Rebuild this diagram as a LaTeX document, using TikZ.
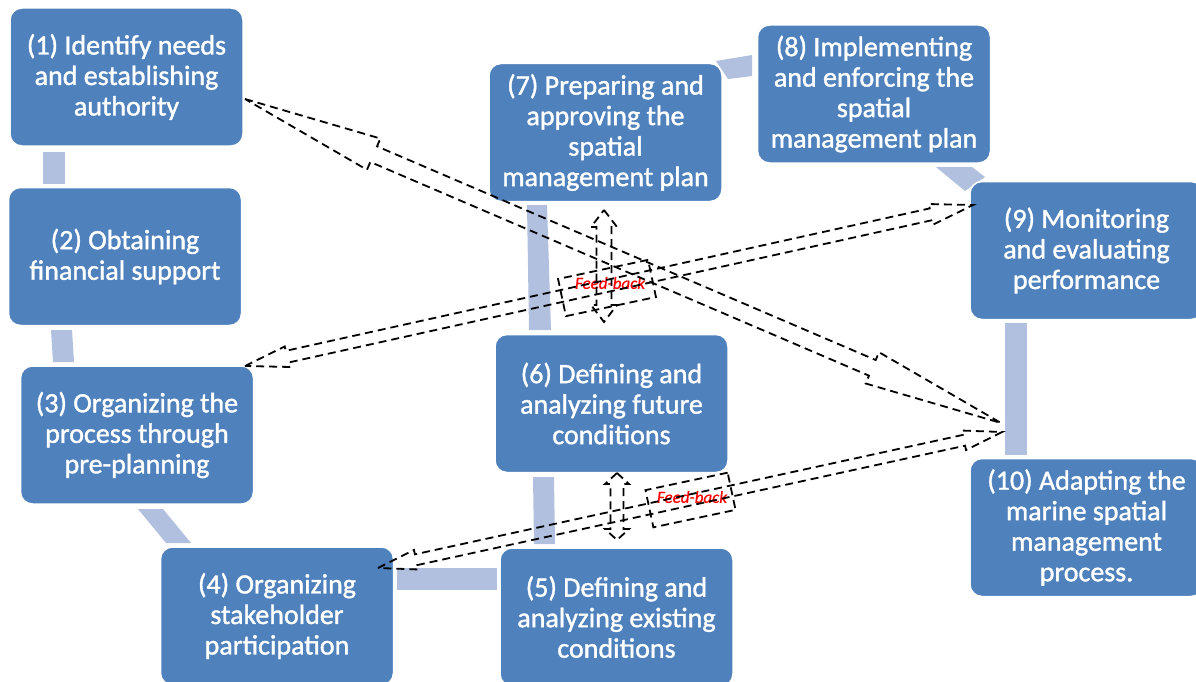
\documentclass[tikz,border=0pt]{standalone}
\usepackage{fontspec}
\setmainfont{Carlito}
\newfontfamily\boxfont{Carlito}[FakeBold=1.3]
\newfontfamily\fbfont{Carlito}[FakeBold=0.6]
\usetikzlibrary{calc}
\definecolor{boxblue}{HTML}{4F81BD}
\definecolor{connblue}{HTML}{B0C0DE}
\tikzset{
  stepbox/.style={draw=white, line width=1.5pt, fill=boxblue, rounded corners=12pt,
    text=white, align=center, minimum width=233pt, minimum height=138pt, inner sep=0pt,
    font=\boxfont\fontsize{28}{30.5}\selectfont},
  conn/.style={fill=connblue},
  fbline/.style={draw=black, line width=1.8pt, dash pattern=on 8pt off 5pt},
  fbbox/.style={fbline, minimum width=92pt, minimum height=38pt, inner sep=0pt},
  fblabel/.style={text=red, inner sep=0pt, font=\fbfont\fontsize{17}{19}\selectfont\itshape},
}
% #1,#2 tips; #3 head length; #4 head half width; #5 shaft half width
\newcommand{\blockarrow}[5]{%
  \draw[fbline] (#1)
    -- ($(#1)!#3!(#2)!#4!90:(#2)$)
    -- ($(#1)!#3!(#2)!#5!90:(#2)$)
    -- ($(#2)!#3!(#1)!#5!-90:(#1)$)
    -- ($(#2)!#3!(#1)!#4!-90:(#1)$)
    -- (#2)
    -- ($(#2)!#3!(#1)!#4!90:(#1)$)
    -- ($(#2)!#3!(#1)!#5!90:(#1)$)
    -- ($(#1)!#3!(#2)!#5!-90:(#2)$)
    -- ($(#1)!#3!(#2)!#4!-90:(#2)$)
    -- cycle;}
\begin{document}
\begin{tikzpicture}[x=1pt,y=-1pt]
\fill[white] (0,0) rectangle (1196,682);
\useasboundingbox (0,0) rectangle (1196,682);
% connectors
\fill[conn] (43,152) -- (65,152) -- (65,184) -- (43,184) -- cycle;
\fill[conn] (51,330) -- (72,330) -- (74,362) -- (53,362) -- cycle;
\fill[conn] (138,509) -- (163,509) -- (191,543) -- (166,543) -- cycle;
\fill[conn] (397,568) -- (497,568) -- (497,590) -- (397,590) -- cycle;
\fill[conn] (533,477) -- (554,477) -- (555,544) -- (534,544) -- cycle;
\fill[conn] (527,205) -- (547,205) -- (551,330) -- (529,330) -- cycle;
\fill[conn] (716,61) -- (752,55) -- (752,76) -- (728,79) -- cycle;
\fill[conn] (936,167) -- (972,167) -- (985,177) -- (965,191) -- cycle;
\fill[conn] (1005,323) -- (1027,323) -- (1027,455) -- (1005,455) -- cycle;
% boxes
\node[stepbox] (b1) at (126.5,77) {(1) Identify needs\\and establishing\\authority};
\node[stepbox] (b2) at (125,256.5) {(2) Obtaining\\financial support};
\node[stepbox] (b3) at (137,435) {(3) Organizing the\\process through\\pre-planning};
\node[stepbox] (b4) at (277,616) {(4) Organizing\\stakeholder\\participation};
\node[stepbox] (b5) at (616.5,617) {(5) Defining and\\analyzing existing\\conditions};
\node[stepbox] (b6) at (611.5,403.5) {(6) Defining and\\analyzing future\\conditions};
\node[stepbox] (b7) at (605.5,132.5) {(7) Preparing and\\approving the\\spatial\\management plan};
\node[stepbox] (b8) at (874,94) {(8) Implementing\\and enforcing the\\spatial\\management plan};
\node[stepbox] (b9) at (1086.5,250.5) {(9) Monitoring\\and evaluating\\performance};
\node[stepbox] (b10) at (1086.5,527.5) {(10) Adapting the\\marine spatial\\management\\process.};
% feed-back boxes
\node[fbbox, rotate=12] (fb1) at (607,288) {};
\node[fblabel] (fbt1) at (610,283) {Feed-back};
\node[fbbox, minimum width=84pt, rotate=12] (fb2) at (690.5,500) {};
\node[fblabel] (fbt2) at (692,497) {Feed-back};
% dashed double block arrows
\coordinate (a1) at (245,99);
\coordinate (a2) at (1001,423);
\coordinate (bb1) at (245,366);
\coordinate (bb2) at (973,205);
\coordinate (cc1) at (378,568);
\coordinate (cc2) at (1002,432);
\coordinate (v1) at (604,210);
\coordinate (v2) at (604,322);
\coordinate (w1) at (617,473);
\coordinate (w2) at (617,540);
\blockarrow{a1}{a2}{140pt}{17pt}{8.5pt}
\blockarrow{bb1}{bb2}{43pt}{10.5pt}{6pt}
\blockarrow{cc1}{cc2}{39pt}{10pt}{5.5pt}
\blockarrow{v1}{v2}{17pt}{13pt}{7.5pt}
\blockarrow{w1}{w2}{11pt}{12pt}{6.5pt}
\end{tikzpicture}
\end{document}
